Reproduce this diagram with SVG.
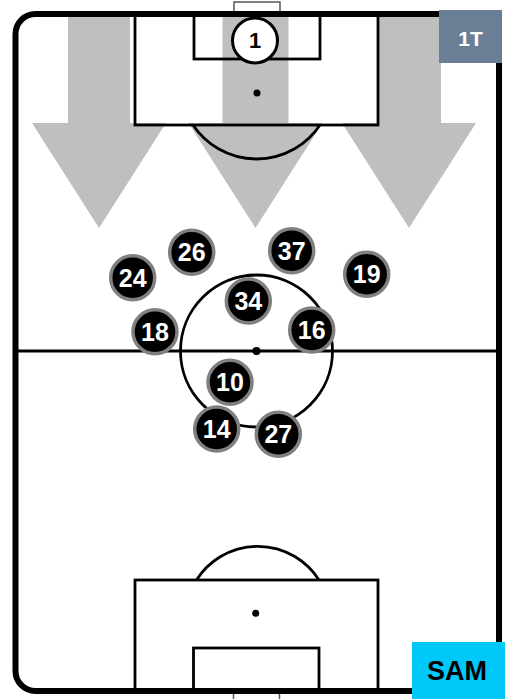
<svg xmlns="http://www.w3.org/2000/svg" width="505" height="699" viewBox="0 0 505 699">
<style>
.line{fill:none;stroke:#000;stroke-width:2.8}
.arrow{fill:#bfbfbf}
.pl circle{fill:#000;stroke:#808080;stroke-width:3.5}
.pl text{fill:#fff;font-family:"Liberation Sans",Arial,sans-serif;font-weight:bold;font-size:25px;text-anchor:middle}
</style>
<rect width="505" height="699" fill="#fff"/>
<g id="goal-top"><rect x="234" y="2" width="46" height="12" fill="#fff" stroke="#555" stroke-width="1.5"/></g>
<g id="goal-bottom"><rect x="233.5" y="692" width="46" height="12" fill="#fff" stroke="#555" stroke-width="1.5"/></g>
<g id="field-bg"><rect x="15.5" y="14" width="483.5" height="677" rx="20" fill="#fff"/></g>
<g id="arrows">
<polygon class="arrow" points="68,14 130,14 130,123 166,123 99,228 32,123 68,123"/>
<polygon class="arrow" points="222.5,14 288.5,14 288.5,123 322.5,123 255.5,228 188.5,123 222.5,123"/>
<polygon class="arrow" points="378,14 441,14 441,123 476,123 409,228 342,123 378,123"/>
</g>
<g id="pitch-lines">
<rect class="line" x="135" y="13" width="243" height="112"/>
<rect class="line" x="194" y="13" width="126" height="46"/>
<circle cx="257" cy="93" r="3.5" fill="#000"/>
<path class="line" d="M193,125 A76.3,76.3 0 0 0 320,125"/>
<line class="line" x1="15" y1="351" x2="499" y2="351"/>
<circle class="line" cx="256.5" cy="351" r="76"/>
<circle cx="256.5" cy="351" r="4" fill="#000"/>
<rect class="line" x="135" y="580" width="243" height="111"/>
<rect class="line" x="193.5" y="648" width="125.5" height="43"/>
<circle cx="255.7" cy="613.3" r="3.5" fill="#000"/>
<path class="line" d="M196.5,580 A72.5,72.5 0 0 1 319,580"/>
</g>
<g id="field-outline"><rect x="15.5" y="14" width="483.5" height="677" rx="20" fill="none" stroke="#000" stroke-width="6"/></g>
<g id="p1"><circle cx="255" cy="40.5" r="22.5" fill="#fff" stroke="#000" stroke-width="3"/><text x="255" y="48.3" font-family="Liberation Sans,Arial,sans-serif" font-weight="bold" font-size="22" text-anchor="middle" fill="#000">1</text></g>
<g id="p26" class="pl"><circle cx="191.7" cy="252.3" r="22"/><text x="191.7" y="261.3">26</text></g>
<g id="p37" class="pl"><circle cx="291.7" cy="250.7" r="22"/><text x="291.7" y="259.7">37</text></g>
<g id="p24" class="pl"><circle cx="132.7" cy="277.7" r="22"/><text x="132.7" y="286.7">24</text></g>
<g id="p19" class="pl"><circle cx="366.7" cy="274.3" r="22"/><text x="366.7" y="283.3">19</text></g>
<g id="p34" class="pl"><circle cx="248.3" cy="301" r="22"/><text x="248.3" y="310">34</text></g>
<g id="p18" class="pl"><circle cx="155" cy="331.7" r="22"/><text x="155" y="340.7">18</text></g>
<g id="p16" class="pl"><circle cx="311.7" cy="330" r="22"/><text x="311.7" y="339">16</text></g>
<g id="p10" class="pl"><circle cx="230" cy="382.3" r="22"/><text x="230" y="391.3">10</text></g>
<g id="p14" class="pl"><circle cx="216.7" cy="429" r="22"/><text x="216.7" y="438">14</text></g>
<g id="p27" class="pl"><circle cx="278.3" cy="434.3" r="22"/><text x="278.3" y="443.3">27</text></g>
<g id="badge-1T"><rect x="439" y="10" width="63" height="53" fill="#6a7f96"/><text x="470.5" y="45.5" font-family="Liberation Sans,Arial,sans-serif" font-weight="bold" font-size="21" text-anchor="middle" fill="#fff">1T</text></g>
<g id="badge-SAM"><rect x="412" y="642" width="93" height="57" fill="#00c8f8"/><text x="457" y="679.5" font-family="Liberation Sans,Arial,sans-serif" font-weight="bold" font-size="27" text-anchor="middle" fill="#000">SAM</text></g>
</svg>
